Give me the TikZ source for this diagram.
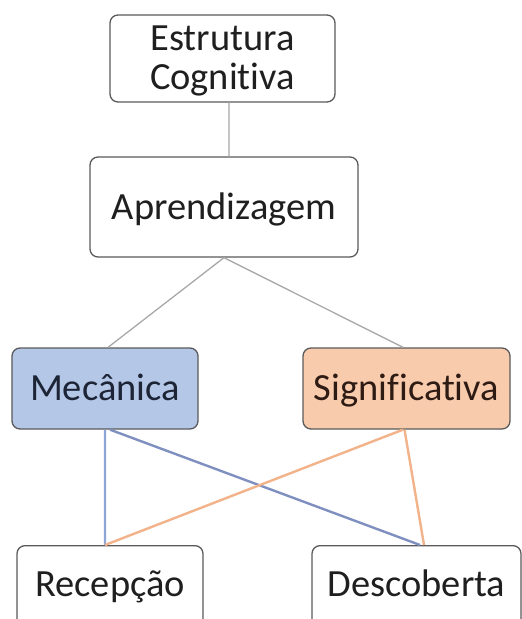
\documentclass[tikz,border=0pt]{standalone}
\usepackage{fontspec}
\setmainfont{Carlito}[RawFeature={-liga}]
\definecolor{boxline}{HTML}{5A5A5A}
\definecolor{mecfill}{HTML}{B4C7E7}
\definecolor{sigfill}{HTML}{F8CBAD}
\definecolor{graylink}{HTML}{A8A8A8}
\definecolor{bluelink}{HTML}{8EA6D6}
\definecolor{bluelinkdark}{HTML}{7F90C0}
\definecolor{orangelink}{HTML}{F2B28A}
\definecolor{mectext}{HTML}{1C2435}
\definecolor{sigtext}{HTML}{2E1C14}
\tikzset{
  conceptbox/.style={draw=boxline, line width=1.3bp, rounded corners=8bp,
    fill=white, inner sep=0pt, text=black!88,
    font=\fontsize{38.6}{41}\selectfont},
  onelinebox/.style={conceptbox, text height=24.7bp, text depth=0pt},
  cutbox/.style={conceptbox, anchor=north, minimum height=120bp,
    text height=24.7bp, text depth=44bp},
  graylinkstyle/.style={draw=graylink, line width=1.3bp},
  bluelinkstyle/.style={draw=bluelink, line width=2.4bp},
  orangelinkstyle/.style={draw=orangelink, line width=2.4bp}
}
\begin{document}
\begin{tikzpicture}[x=1bp, y=-1bp]
\useasboundingbox (0,0) rectangle (522,619);
\clip (0,0) rectangle (522,619);

% concept boxes
\node[conceptbox, align=center, minimum width=225bp, minimum height=87bp,
  text height=64.7bp, text depth=1.7bp]
  (est) at (222.5,58.5) {Estrutura\\[-1bp]Cognitiva};
\node[onelinebox, minimum width=268bp, minimum height=100bp]
  (apr) at (224,207) {Aprendizagem};
\node[onelinebox, fill=mecfill, text=mectext, minimum width=186bp, minimum height=81bp]
  (mec) at (105,388.5) {Mecânica};
\node[onelinebox, fill=sigfill, text=sigtext, minimum width=207bp, minimum height=81bp]
  (sig) at (406.5,388.5) {Significativa};
\node[cutbox, minimum width=186bp] (rec) at (110,545) {Recepção};
\node[cutbox, minimum width=209bp] (des) at (416.5,545) {Descoberta};

% hierarchy links
\draw[graylinkstyle] ([xshift=6.5bp]est.south) -- ([xshift=5bp]apr.north);
\draw[graylinkstyle] (apr.south) -- ([xshift=3bp]mec.north);
\draw[graylinkstyle] (apr.south) -- ([xshift=-3.5bp]sig.north);

% cross links between learning types
\draw[bluelinkstyle] (mec.south) -- ([xshift=-5bp]rec.north);
\draw[bluelinkstyle, draw=bluelinkdark] ([xshift=5bp]mec.south) -- ([xshift=3.5bp]des.north);
\draw[orangelinkstyle] ([xshift=-3.5bp]sig.south) -- ([xshift=-5bp]rec.north);
\draw[orangelinkstyle] ([xshift=-2bp]sig.south) -- ([xshift=7.5bp]des.north);
\end{tikzpicture}
\end{document}
